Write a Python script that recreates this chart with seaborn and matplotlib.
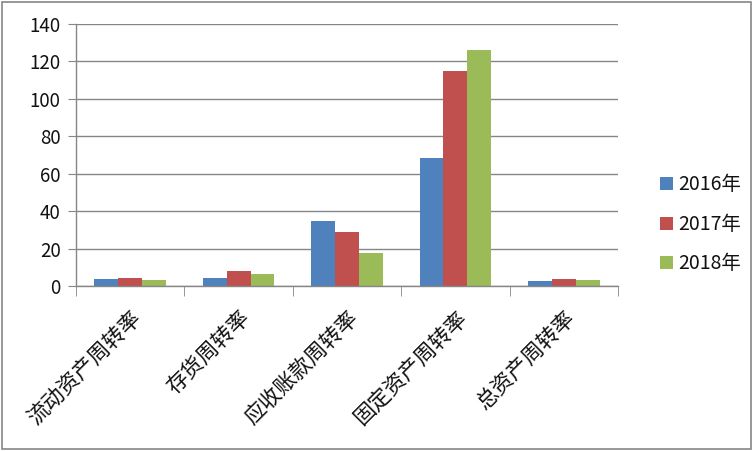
import numpy as np
import pandas as pd
import matplotlib
matplotlib.use('Agg')
import matplotlib.pyplot as plt
import seaborn as sns
from matplotlib.patches import Rectangle

# Data
categories = ['流动资产周转率', '存货周转率', '应收账款周转率', '固定资产周转率', '总资产周转率']
years = ['2016年', '2017年', '2018年']
values_2016 = [3.7, 4.4, 34.8, 68.4, 2.9]
values_2017 = [4.4, 8.2, 28.8, 114.7, 3.9]
values_2018 = [3.2, 6.6, 17.8, 125.9, 3.4]

df = pd.DataFrame({
    '指标': categories * 3,
    '年份': [years[0]] * 5 + [years[1]] * 5 + [years[2]] * 5,
    '值': values_2016 + values_2017 + values_2018,
})

sns.set_style('white')
plt.rcParams['font.family'] = ['Noto Sans CJK SC', 'DejaVu Sans']

colors = ['#4F81BD', '#C0504D', '#9BBB59']
W, H = 753, 451
fig = plt.figure(figsize=(W / 100, H / 100), dpi=100)
ax = fig.add_axes([76 / W, 1 - 286 / H, 542 / W, 262 / H])

sns.barplot(data=df, x='指标', y='值', hue='年份', palette=colors,
            width=0.66, gap=0, saturation=1, linewidth=0, ax=ax, legend=True)

grid_c = '#868686'
ax.set_ylim(0, 140)
ax.set_yticks(range(0, 141, 20))
ax.set_xlim(-0.5, len(categories) - 0.5)
ax.yaxis.grid(True, color=grid_c, linewidth=1)
ax.set_axisbelow(True)
for s in ['top', 'right']:
    ax.spines[s].set_visible(False)
for s in ['left', 'bottom']:
    ax.spines[s].set_color(grid_c)
    ax.spines[s].set_linewidth(1)

ax.set_xlabel('')
ax.set_ylabel('')
ax.tick_params(axis='y', length=6, color=grid_c, labelsize=13.5, pad=5, left=True,
               labelcolor='#111111')
ax.tick_params(axis='x', which='major', length=0, labelsize=15.5, pad=15,
               labelcolor='#111111')
ax.set_xticks(np.arange(-0.5, len(categories), 1), minor=True)
ax.tick_params(axis='x', which='minor', length=7, color=grid_c, bottom=True)
for lbl in ax.get_xticklabels():
    lbl.set_rotation(45)
    lbl.set_ha('right')
    lbl.set_va('top')
    lbl.set_rotation_mode('anchor')
    lbl.set_fontweight('light')

leg = ax.legend(loc='center left', bbox_to_anchor=(1.045, 0.235), frameon=False,
                fontsize=14, handlelength=0.65, handleheight=0.65,
                handletextpad=0.3, labelspacing=0.95)
for t in leg.get_texts():
    t.set_color('#111111')

# outer border of the chart
fig.patches.append(Rectangle((2 / W, 2 / H), 1 - 4 / W, 1 - 4 / H,
                             transform=fig.transFigure, fill=False,
                             edgecolor='#868686', linewidth=1.2))

fig.savefig('out.png', dpi=100)
